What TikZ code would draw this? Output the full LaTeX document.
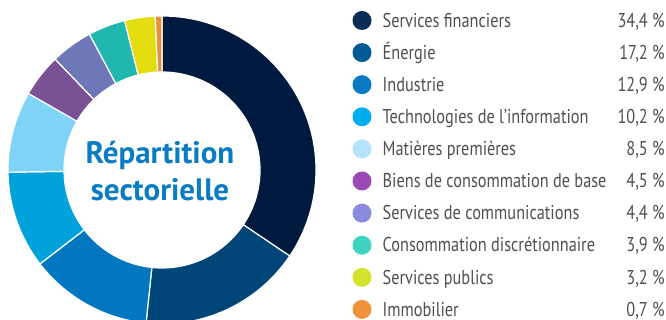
\documentclass[tikz,border=0pt]{standalone}
\usepackage{fontspec}
\setmainfont{PT Sans}[FakeStretch=0.815]
\newfontfamily\titlefont{PT Sans}[FakeStretch=1.0]
\definecolor{cA}{HTML}{001A3F}
\definecolor{cB}{HTML}{004678}
\definecolor{cC}{HTML}{0077BE}
\definecolor{cD}{HTML}{00A2DC}
\definecolor{cE}{HTML}{7FD3F7}
\definecolor{cF}{HTML}{7B5196}
\definecolor{cG}{HTML}{6E78B8}
\definecolor{cH}{HTML}{1FB7AE}
\definecolor{cI}{HTML}{E3DD0F}
\definecolor{cJ}{HTML}{E8913A}
\definecolor{lA}{HTML}{0A2D55}
\definecolor{lB}{HTML}{005A94}
\definecolor{lC}{HTML}{0A7AC4}
\definecolor{lD}{HTML}{00AEEF}
\definecolor{lE}{HTML}{B5E4FA}
\definecolor{lF}{HTML}{9B4AB5}
\definecolor{lG}{HTML}{8A8ADE}
\definecolor{lH}{HTML}{3DD4C0}
\definecolor{lI}{HTML}{D3E22A}
\definecolor{lJ}{HTML}{F0923A}
\definecolor{txt}{HTML}{505050}
\definecolor{ttl}{HTML}{0A7CC1}
\tikzset{
  seg/.style={draw=white, line width=1.2pt},
  dot/.style={circle, inner sep=0pt, minimum size=19pt},
  lab/.style={anchor=base west, inner sep=0pt, text=txt, font=\fontsize{20}{24}\selectfont},
  pct/.style={anchor=base east, inner sep=0pt, text=txt, font=\fontsize{20}{24}\selectfont},
  ttlstyle/.style={anchor=base, inner sep=0pt, text=ttl, font=\titlefont\bfseries\fontsize{31}{36}\selectfont}
}
\begin{document}
\begin{tikzpicture}[x=1pt,y=1pt]
\useasboundingbox[fill=white] (0,0) rectangle (666,320);
\begin{scope}[shift={(162,150)}]
\foreach \a/\b/\c in {90/-33.96/cA, -33.96/-95.95/cB, -95.95/-142.43/cC, -142.43/-179.19/cD, -179.19/-209.82/cE, -209.82/-226.04/cF, -226.04/-241.89/cG, -241.89/-255.95/cH, -255.95/-267.48/cI, -267.48/-270/cJ}{
  \filldraw[seg, fill=\c] (\a:154) arc[start angle=\a, end angle=\b, radius=154] -- (\b:98) arc[start angle=\b, end angle=\a, radius=98] -- cycle;
}
\end{scope}
\node[ttlstyle] (t1) at (160,156.7) {Répartition};
\node[ttlstyle] (t2) at (160,119) {sectorielle};
\foreach \i/\c/\name/\p in {0/lA/Services financiers/{34,4 \%}, 1/lB/Énergie/{17,2 \%}, 2/lC/Industrie/{12,9 \%}, 3/lD/Technologies de l’information/{10,2 \%}, 4/lE/Matières premières/{8,5 \%}, 5/lF/Biens de consommation de base/{4,5 \%}, 6/lG/Services de communications/{4,4 \%}, 7/lH/Consommation discrétionnaire/{3,9 \%}, 8/lI/Services publics/{3,2 \%}, 9/lJ/Immobilier/{0,7 \%}}{
  \pgfmathsetmacro{\yy}{320-(20.5+32.1*\i)}
  \node[dot, fill=\c] (d\i) at (362,\yy) {};
  \node[lab] (n\i) at (382.5,\yy-6.8) {\name};
  \node[pct] (p\i) at (665,\yy-6.8) {\p};
}
\end{tikzpicture}
\end{document}
